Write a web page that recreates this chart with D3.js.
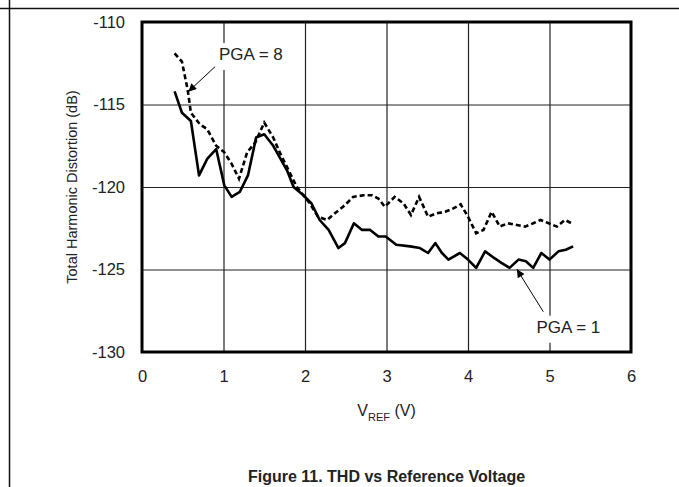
<!DOCTYPE html>
<html>
<head>
<meta charset="utf-8">
<script src="https://cdn.jsdelivr.net/npm/d3@7"></script>
<style>
  body { margin: 0; background: #fff; }
  text { font-family: "Liberation Sans", Arial, sans-serif; fill: #222; }
</style>
</head>
<body>
<svg class="chart"></svg>
<script>
// PGA = 1 (solid)
const pga1Vref = [0.40, 0.49, 0.60, 0.70, 0.80, 0.91, 1.01, 1.10, 1.20, 1.30, 1.40, 1.50, 1.61, 1.70, 1.78,
  1.86, 1.98, 2.08, 2.18, 2.29, 2.41, 2.49, 2.60, 2.70, 2.80, 2.90, 2.99, 3.12, 3.29, 3.41, 3.51, 3.60,
  3.68, 3.76, 3.90, 4.00, 4.10, 4.21, 4.32, 4.41, 4.51, 4.62, 4.71, 4.80, 4.90, 5.00, 5.11, 5.20, 5.29];
const pga1Thd = [-114.2, -115.5, -116.0, -119.3, -118.3, -117.7, -119.9, -120.6, -120.3, -119.3, -117.0, -116.8, -117.5, -118.3, -119.0,
  -120.0, -120.5, -121.0, -122.0, -122.6, -123.7, -123.4, -122.2, -122.6, -122.6, -123.0, -123.0, -123.5, -123.6, -123.7, -124.0, -123.4,
  -124.0, -124.4, -124.0, -124.4, -124.9, -123.9, -124.3, -124.6, -124.9, -124.4, -124.5, -124.9, -124.0, -124.4, -123.9, -123.8, -123.6];

// PGA = 8 (dashed)
const pga8Vref = [0.40, 0.49, 0.56, 0.60, 0.71, 0.80, 0.91, 1.01, 1.10, 1.19, 1.29, 1.39, 1.50, 1.61, 1.70,
  1.80, 1.90, 2.06, 2.16, 2.27, 2.39, 2.49, 2.59, 2.72, 2.82, 2.90, 2.98, 3.10, 3.21, 3.30, 3.40, 3.51,
  3.61, 3.72, 3.82, 3.91, 4.00, 4.10, 4.19, 4.29, 4.39, 4.49, 4.60, 4.70, 4.80, 4.89, 4.99, 5.09, 5.19, 5.27];
const pga8Thd = [-111.9, -112.4, -114.1, -115.5, -116.2, -116.5, -117.5, -117.9, -118.6, -119.5, -117.9, -117.3, -116.1, -117.0, -118.0,
  -119.0, -120.0, -121.0, -121.8, -122.0, -121.5, -121.1, -120.6, -120.5, -120.5, -120.7, -121.2, -120.6, -121.0, -121.7, -120.6, -121.8,
  -121.6, -121.5, -121.3, -121.05, -121.8, -122.8, -122.6, -121.5, -122.4, -122.2, -122.3, -122.4, -122.2, -122.0, -122.2, -122.4, -122.0, -122.2];

const xTicks = [0, 1, 2, 3, 4, 5, 6];
const yTicks = [-130, -125, -120, -115, -110];

// label text, label anchor, arrow tail, arrow tip (data units)
const annotations = [
  {text: 'PGA = 8', at: [0.945, -112.3], from: [0.896, -112.71], to: [0.568, -114.22]},
  {text: 'PGA = 1', at: [4.84, -128.83], from: [4.924, -127.56], to: [4.60, -124.99]},
];

const W = 679, H = 487;
const margin = {top: 22, right: 48, bottom: 135, left: 142};
const width = W - margin.left - margin.right;
const height = H - margin.top - margin.bottom;

const x = d3.scaleLinear().domain([0, 6]).range([0, width]);
const y = d3.scaleLinear().domain([-130, -110]).range([height, 0]);

const svg = d3.select('.chart')
    .attr('width', W)
    .attr('height', H);

// page frame lines
svg.append('line')
    .attr('x1', 0).attr('x2', W)
    .attr('y1', 8.5).attr('y2', 8.5)
    .attr('stroke', '#111').attr('stroke-width', 1.5);
svg.append('line')
    .attr('x1', 9.5).attr('x2', 9.5)
    .attr('y1', 0).attr('y2', H)
    .attr('stroke', '#111').attr('stroke-width', 1.5);

const chart = svg.append('g')
    .attr('transform', `translate(${ margin.left },${ margin.top })`);

// grid
const grid = chart.append('g')
    .attr('class', 'grid');

grid.selectAll('line.v')
    .data(xTicks.slice(1, -1))
  .enter().append('line')
    .attr('class', 'v')
    .attr('x1', (d) => x(d) + 0.5).attr('x2', (d) => x(d) + 0.5)
    .attr('y1', 0).attr('y2', height)
    .attr('stroke', '#222').attr('stroke-width', 1.2);

grid.selectAll('line.h')
    .data(yTicks.slice(1, -1))
  .enter().append('line')
    .attr('class', 'h')
    .attr('x1', 0).attr('x2', width)
    .attr('y1', (d) => y(d) + 0.5).attr('y2', (d) => y(d) + 0.5)
    .attr('stroke', '#222').attr('stroke-width', 1.2);

// axes as tick labels only (plain hyphen, as in the original)
const xAxis = d3.axisBottom(x).tickValues(xTicks).tickSize(0).tickPadding(18).tickFormat((d) => String(d));
const yAxis = d3.axisLeft(y).tickValues(yTicks).tickSize(0).tickPadding(17).tickFormat((d) => String(d));

const gx = chart.append('g')
    .attr('transform', `translate(0,${ height })`)
    .call(xAxis);
const gy = chart.append('g')
    .call(yAxis);

[gx, gy].forEach((g) => {
  g.select('.domain').remove();
  g.selectAll('text')
      .style('font-size', '16.5px')
      .style('font-family', '"Liberation Sans", Arial, sans-serif')
      .attr('fill', '#222');
});

// curves
const line = d3.line()
    .x((d) => x(d[0]))
    .y((d) => y(d[1]));

chart.append('path')
    .datum(d3.zip(pga8Vref, pga8Thd))
    .attr('d', line)
    .attr('fill', 'none')
    .attr('stroke', '#000')
    .attr('stroke-width', 2.6)
    .attr('stroke-dasharray', '5,3');

chart.append('path')
    .datum(d3.zip(pga1Vref, pga1Thd))
    .attr('d', line)
    .attr('fill', 'none')
    .attr('stroke', '#000')
    .attr('stroke-width', 2.6)
    .attr('stroke-linejoin', 'round');

// plot border
chart.append('rect')
    .attr('x', 0).attr('y', 0)
    .attr('width', width).attr('height', height)
    .attr('fill', 'none')
    .attr('stroke', '#000')
    .attr('stroke-width', 3);

// annotations with arrows
const defs = svg.append('defs');
defs.append('marker')
    .attr('id', 'arrow')
    .attr('viewBox', '0 0 10 10')
    .attr('refX', 10).attr('refY', 5)
    .attr('markerWidth', 13).attr('markerHeight', 8)
    .attr('markerUnits', 'userSpaceOnUse')
    .attr('orient', 'auto')
  .append('path')
    .attr('d', 'M0,0 L10,5 L0,10 z')
    .attr('fill', '#000');

annotations.forEach((a) => {
  const t = chart.append('text')
      .attr('x', x(a.at[0]))
      .attr('y', y(a.at[1]))
      .style('font-size', '17px')
      .text(a.text);
  const b = t.node().getBBox();
  chart.insert('rect', () => t.node())
      .attr('x', b.x - 3).attr('y', b.y - 2)
      .attr('width', b.width + 6).attr('height', b.height + 8)
      .attr('fill', '#fff');
  chart.append('line')
      .attr('x1', x(a.from[0])).attr('y1', y(a.from[1]))
      .attr('x2', x(a.to[0])).attr('y2', y(a.to[1]))
      .attr('stroke', '#000')
      .attr('stroke-width', 1)
      .attr('marker-end', 'url(#arrow)');
});

// axis titles
chart.append('text')
    .attr('transform', `translate(${ -65 },${ height / 2 }) rotate(-90)`)
    .attr('text-anchor', 'middle')
    .style('font-size', '14.5px')
    .text('Total Harmonic Distortion (dB)');

const xt = chart.append('text')
    .attr('x', width / 2)
    .attr('y', height + 64)
    .attr('text-anchor', 'middle')
    .style('font-size', '16px');
xt.append('tspan').text('V');
xt.append('tspan').attr('dy', 5).style('font-size', '11px').text('REF');
xt.append('tspan').attr('dy', -5).text(' (V)');

// caption
svg.append('text')
    .attr('x', margin.left + width / 2)
    .attr('y', 482)
    .attr('text-anchor', 'middle')
    .style('font-size', '16px')
    .style('font-weight', 'bold')
    .text('Figure 11. THD vs Reference Voltage');
</script>
</body>
</html>
